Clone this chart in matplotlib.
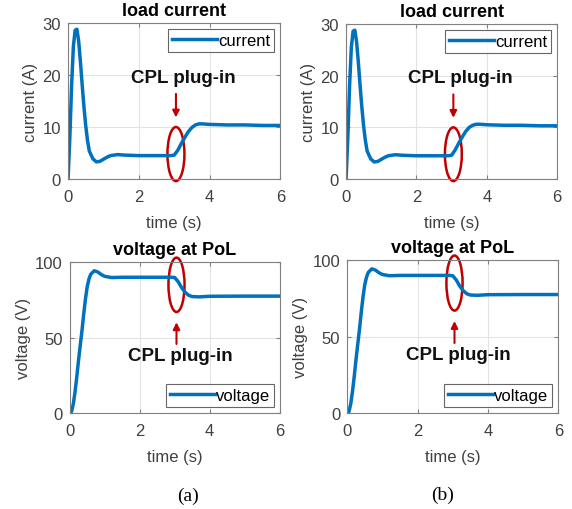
import matplotlib
matplotlib.use("Agg")
import matplotlib.pyplot as plt
from matplotlib.patches import Ellipse

plt.rcParams['font.family'] = ['Liberation Sans', 'DejaVu Sans']

# time samples (s)
t_cur = [0, 0.05, 0.1, 0.15, 0.2, 0.25, 0.3, 0.35, 0.4, 0.45, 0.5, 0.55, 0.6, 0.7,
         0.8, 0.9, 1.0, 1.1, 1.2, 1.4, 1.6, 2.0, 2.5, 2.9, 3.0, 3.1, 3.2, 3.3, 3.4,
         3.5, 3.6, 3.7, 3.8, 4.0, 4.5, 5.0, 5.5, 6.0]
# load current (A) for case (a) and (b)
cur_a = [0, 8, 18, 25.5, 28.6, 28.8, 26.5, 22.5, 18, 13.8, 10.2, 7.4, 5.4, 3.9,
         3.3, 3.4, 3.8, 4.2, 4.5, 4.7, 4.6, 4.5, 4.5, 4.5, 4.6, 5.5, 6.8, 8.0, 9.1,
         9.9, 10.4, 10.6, 10.6, 10.5, 10.4, 10.4, 10.3, 10.3]
cur_b = [0, 8, 18, 25.5, 28.6, 28.8, 26.5, 22.5, 18, 13.8, 10.2, 7.4, 5.4, 3.9,
         3.3, 3.4, 3.8, 4.2, 4.5, 4.7, 4.6, 4.5, 4.5, 4.5, 4.6, 5.6, 6.9, 8.1, 9.2,
         10.0, 10.4, 10.6, 10.6, 10.5, 10.4, 10.4, 10.3, 10.3]

t_volt = [0, 0.05, 0.1, 0.15, 0.2, 0.25, 0.3, 0.35, 0.4, 0.45, 0.5, 0.55, 0.6, 0.7,
          0.8, 0.9, 1.0, 1.2, 1.5, 2.0, 2.5, 2.9, 3.0, 3.1, 3.2, 3.3, 3.4, 3.5, 3.7,
          4.0, 5.0, 6.0]
# voltage at PoL (V)
volt_a = [0, 1, 6, 14, 24, 35, 45, 55, 66, 76, 84, 89, 92, 94.3, 93.5, 91.8, 90.6,
          89.8, 90, 90, 90, 90, 89.8, 87, 83, 80, 78, 77.2, 77, 77.4, 77.5, 77.5]
volt_b = [0, 1, 6, 14, 24, 35, 45, 55, 66, 76, 84, 89, 92, 94.3, 93.5, 91.8, 90.6,
          89.8, 90, 90, 90, 90, 89.8, 87, 83, 80, 78, 77.2, 77, 77.4, 77.5, 77.5]

blue = '#0072BD'
red = '#C00000'
tick_col = '#404040'


def style_axes(ax, ylim, yticks):
    ax.set_xlim(0, 6)
    ax.set_ylim(*ylim)
    ax.set_xticks([0, 2, 4, 6])
    ax.set_yticks(yticks)
    ax.grid(True, color='#e3e3e3', lw=0.8)
    ax.set_axisbelow(True)
    for s in ax.spines.values():
        s.set_color('#808080')
        s.set_linewidth(0.8)
    ax.tick_params(direction='in', length=3, colors='#808080', labelcolor=tick_col,
                   labelsize=12, top=True, right=True)
    ax.tick_params(axis='x', pad=7)
    ax.tick_params(axis='y', pad=5)


def current_panel(ax, y):
    ax.plot(t_cur, y, color=blue, lw=2.5, label='current')
    style_axes(ax, (0, 30), [0, 10, 20, 30])
    ax.set_title('load current', fontsize=13, fontweight='bold', pad=6)
    ax.set_xlabel('time (s)', fontsize=12, color=tick_col, labelpad=8)
    ax.set_ylabel('current (A)', fontsize=12, color=tick_col, labelpad=3)
    ax.legend(loc='upper right', fontsize=12, handlelength=2.7, frameon=True,
              fancybox=False, edgecolor='#404040', borderpad=0.25,
              handletextpad=0.05, borderaxespad=0.35).get_frame().set_linewidth(0.8)
    ax.add_patch(Ellipse((3.05, 4.8), 0.48, 10.4, fill=False, edgecolor=red,
                         lw=1.8, clip_on=False))
    ax.annotate('', xy=(3.05, 11.3), xytext=(3.05, 16.9),
                arrowprops=dict(arrowstyle='-|>', color=red, lw=1.5,
                                mutation_scale=10))
    ax.text(3.26, 19.6, 'CPL plug-in', fontsize=13.5, fontweight='bold',
            ha='center', va='center', color='#111111')


def voltage_panel(ax, y):
    ax.plot(t_volt, y, color=blue, lw=2.5, label='voltage')
    style_axes(ax, (0, 100), [0, 50, 100])
    ax.set_title('voltage at PoL', fontsize=13, fontweight='bold', pad=6)
    ax.set_xlabel('time (s)', fontsize=12, color=tick_col, labelpad=8)
    ax.set_ylabel('voltage (V)', fontsize=12, color=tick_col, labelpad=3)
    ax.legend(loc='lower right', fontsize=12, handlelength=2.7, frameon=True,
              fancybox=False, edgecolor='#404040', borderpad=0.25,
              handletextpad=0.05, borderaxespad=0.35).get_frame().set_linewidth(0.8)
    ax.add_patch(Ellipse((3.05, 85), 0.46, 36, fill=False, edgecolor=red,
                         lw=1.8, clip_on=False))
    ax.annotate('', xy=(3.05, 62), xytext=(3.05, 44),
                arrowprops=dict(arrowstyle='-|>', color=red, lw=1.5,
                                mutation_scale=10))
    ax.text(3.15, 38, 'CPL plug-in', fontsize=13.5, fontweight='bold',
            ha='center', va='center', color='#111111')


fig = plt.figure(figsize=(5.72, 5.10), dpi=100)
ax1 = fig.add_axes([0.119, 0.647, 0.371, 0.306])
ax2 = fig.add_axes([0.605, 0.647, 0.369, 0.304])
ax3 = fig.add_axes([0.122, 0.188, 0.367, 0.296])
ax4 = fig.add_axes([0.607, 0.188, 0.369, 0.300])

current_panel(ax1, cur_a)
current_panel(ax2, cur_b)
voltage_panel(ax3, volt_a)
voltage_panel(ax4, volt_b)

fig.text(0.329, 0.027, '(a)', fontsize=14, family='Liberation Serif',
         ha='center', va='center')
fig.text(0.774, 0.029, '(b)', fontsize=14, family='Liberation Serif',
         ha='center', va='center')

fig.savefig('out.png', dpi=100)
